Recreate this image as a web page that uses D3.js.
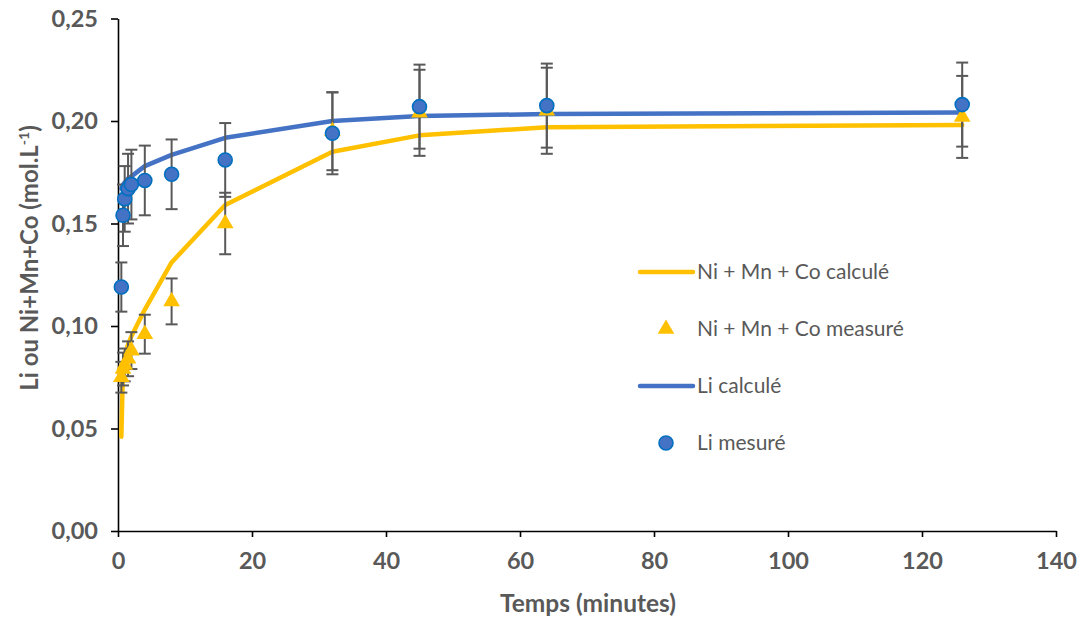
<!DOCTYPE html>
<html><head><meta charset="utf-8">
<script src="https://cdn.jsdelivr.net/npm/d3@7/dist/d3.min.js"></script>
<style>body{margin:0;background:#fff}svg{display:block}</style>
</head><body><svg id="c" width="1085" height="623"></svg>
<script>
const times = [0.5, 0.75, 1, 1.5, 2, 4, 8, 16, 32, 45, 64, 126];
const liMeasured = [0.119, 0.154, 0.162, 0.167, 0.169, 0.171, 0.174, 0.181, 0.194, 0.207, 0.2075, 0.208];
const liError = [0.012, 0.015, 0.016, 0.017, 0.017, 0.017, 0.017, 0.018, 0.020, 0.0205, 0.0205, 0.0205];
const nmcMeasured = [0.075, 0.079, 0.081, 0.084, 0.088, 0.096, 0.112, 0.150, 0.195, 0.204, 0.205, 0.202];
const nmcError = [0.0075, 0.008, 0.008, 0.0085, 0.009, 0.0095, 0.0112, 0.015, 0.019, 0.021, 0.021, 0.020];
const liCalc = [0.167, 0.169, 0.170, 0.172, 0.173, 0.178, 0.1835, 0.1918, 0.2000, 0.2024, 0.2034, 0.2041];
const nmcCalc = [0.046, 0.080, 0.086, 0.091, 0.095, 0.108, 0.131, 0.159, 0.185, 0.193, 0.197, 0.198];
const xTicks = [0, 20, 40, 60, 80, 100, 120, 140];
const yTicks = [0, 0.05, 0.10, 0.15, 0.20, 0.25];
const legendLabels = ["Ni + Mn + Co calculé", "Ni + Mn + Co measuré", "Li calculé", "Li mesuré"];

const svg = d3.select("#c");
const x = d3.scaleLinear().domain([0, 140]).range([118, 1056]);
const y = d3.scaleLinear().domain([0, 0.25]).range([531, 18.5]);
const gray = "#595959", blue = "#4472C4", yellow = "#FFC000";
const font = "Lato, 'Open Sans', sans-serif";
const fmt = d => d3.format(".2f")(d).replace(".", ",");

// axes
const xAxis = svg.append("g").attr("transform", "translate(0,531)")
  .call(d3.axisBottom(x).tickValues(xTicks).tickSize(6).tickPadding(15).tickSizeOuter(0));
const yAxis = svg.append("g").attr("transform", "translate(118,0)")
  .call(d3.axisLeft(y).tickValues(yTicks).tickFormat(fmt).tickSize(7).tickPadding(13).tickSizeOuter(0));
[xAxis, yAxis].forEach(g => {
  g.select(".domain").attr("stroke", "#000").attr("stroke-width", 1.6);
  g.selectAll(".tick line").attr("stroke", "#000").attr("stroke-width", 1.6);
  g.selectAll("text").attr("fill", gray).style("font-family", font)
    .style("font-size", "23.5px").style("font-weight", "bold");
});

// axis titles
svg.append("text").attr("x", 588).attr("y", 612).attr("text-anchor", "middle")
  .attr("fill", gray).style("font-family", font).style("font-size", "24.5px").style("font-weight", "bold")
  .text("Temps (minutes)");
const yt = svg.append("text").attr("transform", "translate(38,258) rotate(-90)").attr("text-anchor", "middle")
  .attr("fill", gray).style("font-family", font).style("font-size", "24px").style("font-weight", "bold");
yt.append("tspan").text("Li ou Ni+Mn+Co (mol.L");
yt.append("tspan").attr("dy", -9).style("font-size", "14px").text("-1");
yt.append("tspan").attr("dy", 9).text(")");

// lines
const line = vals => d3.line().x((d, i) => x(times[i])).y(d => y(d))(vals);
svg.append("path").attr("d", line(nmcCalc)).attr("fill", "none").attr("stroke", yellow)
  .attr("stroke-width", 4.5).attr("stroke-linejoin", "round").attr("stroke-linecap", "round");
svg.append("path").attr("d", line(liCalc)).attr("fill", "none").attr("stroke", blue)
  .attr("stroke-width", 4.5).attr("stroke-linejoin", "round").attr("stroke-linecap", "round");

// error bars
function errBars(vals, errs) {
  const g = svg.append("g").attr("stroke", gray).attr("stroke-width", 2);
  vals.forEach((v, i) => {
    const cx = x(times[i]);
    g.append("line").attr("x1", cx).attr("x2", cx).attr("y1", y(v - errs[i])).attr("y2", y(v + errs[i]));
    [v - errs[i], v + errs[i]].forEach(e => g.append("line").attr("x1", cx - 6).attr("x2", cx + 6)
      .attr("y1", y(e)).attr("y2", y(e)));
  });
}
errBars(nmcMeasured, nmcError);
errBars(liMeasured, liError);

// markers
const tri = d3.symbol().type(d3.symbolTriangle).size(120);
svg.append("g").selectAll("path").data(nmcMeasured).join("path")
  .attr("d", tri).attr("transform", (d, i) => `translate(${x(times[i])},${y(d)})`).attr("fill", yellow);
svg.append("g").selectAll("circle").data(liMeasured).join("circle")
  .attr("cx", (d, i) => x(times[i])).attr("cy", d => y(d)).attr("r", 7)
  .attr("fill", blue).attr("stroke", "#0070C0").attr("stroke-width", 1.6);

// legend
const lg = svg.append("g");
const ly = [272, 329, 386, 443];
lg.append("line").attr("x1", 640).attr("x2", 693).attr("y1", ly[0]).attr("y2", ly[0])
  .attr("stroke", yellow).attr("stroke-width", 4.5).attr("stroke-linecap", "round");
lg.append("path").attr("d", tri).attr("transform", `translate(666,${ly[1]})`).attr("fill", yellow);
lg.append("line").attr("x1", 640).attr("x2", 693).attr("y1", ly[2]).attr("y2", ly[2])
  .attr("stroke", blue).attr("stroke-width", 4.5).attr("stroke-linecap", "round");
lg.append("circle").attr("cx", 666).attr("cy", ly[3]).attr("r", 7)
  .attr("fill", blue).attr("stroke", "#0070C0").attr("stroke-width", 1.6);
legendLabels.forEach((t, i) => lg.append("text").attr("x", 697).attr("y", ly[i]).attr("dy", "0.35em")
  .attr("fill", gray).style("font-family", font).style("font-size", "21px").text(t));
</script></body></html>
